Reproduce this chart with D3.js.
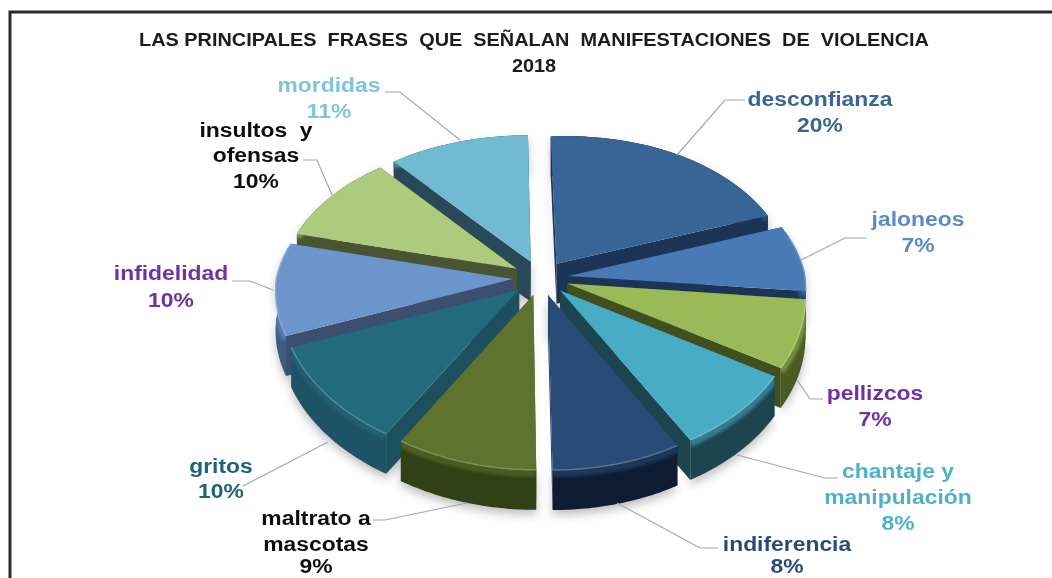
<!DOCTYPE html>
<html lang="es">
<head>
<meta charset="utf-8">
<script src="https://cdn.jsdelivr.net/npm/d3@7/dist/d3.min.js"></script>
<style>
html,body{margin:0;padding:0;background:#fff;overflow:hidden}
svg{display:block}
text{font-family:"Liberation Sans",Arial,sans-serif;font-weight:700;text-anchor:middle}
</style>
</head>
<body>
<svg id="c" width="1052" height="578"></svg>
<script>
// ---- data ----
const categories = ["desconfianza","jaloneos","pellizcos","chantaje y manipulación","indiferencia","maltrato a mascotas","gritos","infidelidad","insultos y ofensas","mordidas"];
const values = [20,7,7,8,8,8.7,10.3,10,10,11];
const titleLines = ["LAS PRINCIPALES  FRASES  QUE  SEÑALAN  MANIFESTACIONES  DE  VIOLENCIA","2018"];

// ---- styles ----
const topColors  = ["#386595","#4a7ab5","#9aba59","#4aacc5","#2b4c78","#5f732e","#246a7b","#6c95cc","#accb7b","#6fbbd2"];
const rimColors  = ["#1c3557","#264a7c","#4c5a20","#1c4450","#0f1f33","#333f14","#1b5266","#3d5a85","#4a5530","#2a4a58"];
const sideColors = ["#1c3557","#1c3557","#3f4f1e","#1c4450","#23405f","#3f4f1e","#1a5060","#3a5070","#4a5530","#2a4a58"];
const labelColors= ["#386595","#5b8ac6","#7030a0","#4fb0c9","#2b4c78","#111111","#1f6478","#7030a0","#111111","#7fc4d8"];

// ---- layout ----
const cx=540.5, cy=278, Rx=236, Ry=147, persp=0.131, explode=0.119, depth=40;
const labelLayout = [
 {x:820,y:[106,132],l:["desconfianza"]},
 {x:918,y:[226,252],l:["jaloneos"]},
 {x:875,y:[400,426],l:["pellizcos"]},
 {x:898,y:[478,504,530],l:["chantaje y","manipulación"]},
 {x:787,y:[551,573],l:["indiferencia"]},
 {x:316,y:[525,551,573],l:["maltrato a","mascotas"]},
 {x:221,y:[473,498],l:["gritos"]},
 {x:171,y:[280,307],l:["infidelidad"]},
 {x:256,y:[137,162,188],l:["insultos  y","ofensas"]},
 {x:329,y:[92,118],l:["mordidas"]}
];
const leaders = [
 [[745,100],[725,100],[677,155]],
 [[867,238],[845,238],[801,260]],
 [[823,399],[810,399],[797,380]],
 [[838,478],[825,478],[737,455]],
 [[718,548],[700,548],[617,503]],
 [[373,520],[385,520],[467,503]],
 [[243,486],[328,442]],
 [[232,281],[250,281],[273,290]],
 [[303,160],[317,160],[332,195]],
 [[385,92],[400,92],[460,140]]
];

const svg = d3.select("#c");
const defs = svg.append("defs");
const blur = (id,s)=>defs.append("filter").attr("id",id).attr("x","-20%").attr("y","-20%").attr("width","140%").attr("height","140%")
  .append("feGaussianBlur").attr("stdDeviation",s);
blur("soft",5); blur("b2",1.8); blur("b05",0.5);

const root = svg.append("g").attr("filter","url(#b05)");

// frame
root.append("path").attr("d",d3.line()([[1052,12],[10,12],[10,578]])).attr("fill","none").attr("stroke","#2c2c2c").attr("stroke-width",3);

// stretched text helper
const stretched=(x,y,size,sx,fill,t)=>root.append("text")
  .attr("transform",`translate(${x},${y}) scale(${sx},1)`)
  .attr("font-size",size).attr("fill",fill).style("white-space","pre").text(t);

// title
titleLines.forEach((t,i)=>stretched(534,46+i*26,18,1.105,"#1a1a1a",t));

// pie
const arcs = d3.pie().sort(null).value(d=>d)(values);
const project = (u,v)=>{
  const s=1/(1-persp*v);
  const skewX=3.8*v+(v>0?-11*u*v:0);
  const skewY=u>0?-4*u*(1-v):0;
  return [cx+Rx*u*s+skewX,cy+Ry*v*s+skewY];
};
const line = d3.line();
const pieces = arcs.map((a,i)=>{
  const mid=(a.startAngle+a.endAngle)/2, ox=explode*Math.sin(mid), oy=-explode*Math.cos(mid);
  const steps=d3.range(0,41).map(k=>a.startAngle+(a.endAngle-a.startAngle)*k/40);
  const rim=steps.map(t=>project(ox+Math.sin(t),oy-Math.cos(t)));
  const front=steps.filter(t=>-Math.cos(t)>-0.25).map(t=>project(ox+Math.sin(t),oy-Math.cos(t)));
  const apex=project(ox,oy);
  return {i,mid,rim,front,apex};
});
const down=p=>[p[0],p[1]+depth];
const order=pieces.slice().sort((a,b)=>Math.cos(b.mid)-Math.cos(a.mid));

// soft shadows
const shadowG=root.append("g").attr("filter","url(#soft)").attr("opacity",0.38);
pieces.forEach(p=>{
  shadowG.append("path").attr("fill","#555")
   .attr("d",line([p.apex,...p.rim,...p.rim.slice().reverse().map(down),down(p.apex)])+"Z")
   .attr("transform","translate(0,5)");
});

order.forEach(p=>{
  const g=root.append("g"), i=p.i;
  const first=p.rim[0], last=p.rim[p.rim.length-1];
  // radial walls
  [first,last].forEach(e=>g.append("path").attr("fill",sideColors[i])
     .attr("d",line([p.apex,e,down(e),down(p.apex)])+"Z"));
  // outer wall
  const wall=line([...p.rim,...p.rim.slice().reverse().map(down)])+"Z";
  g.append("path").attr("d",wall).attr("fill",rimColors[i]);
  const cid="clip"+i;
  defs.append("clipPath").attr("id",cid).append("path").attr("d",wall);
  // bevel glow on the outer wall
  const mix=d3.interpolateRgb(topColors[i],rimColors[i])(0.45);
  g.append("g").attr("clip-path",`url(#${cid})`).append("path")
    .attr("d",line(p.rim.map(q=>[q[0],q[1]+3])))
    .attr("fill","none").attr("stroke",mix).attr("stroke-width",8).attr("filter","url(#b2)");
  // top face
  g.append("path").attr("d",line([p.apex,...p.rim])+"Z").attr("fill",topColors[i]);
  // bevel edge on the top face
  const hi=d3.interpolateRgb(topColors[i],"#ffffff")(0.22);
  if(p.front.length>1) g.append("path").attr("d",line(p.front)).attr("fill","none").attr("stroke",hi).attr("stroke-width",1.4);
});

// leaders
leaders.forEach(pts=>root.append("path").attr("d",line(pts)).attr("fill","none").attr("stroke","#a6a6a6").attr("stroke-width",1.2));

// labels
labelLayout.forEach((o,i)=>{
  const lines=[...o.l,Math.round(values[i])+"%"];
  lines.forEach((t,j)=>stretched(o.x,o.y[j],21,1.09,labelColors[i],t));
});
</script>
</body>
</html>
